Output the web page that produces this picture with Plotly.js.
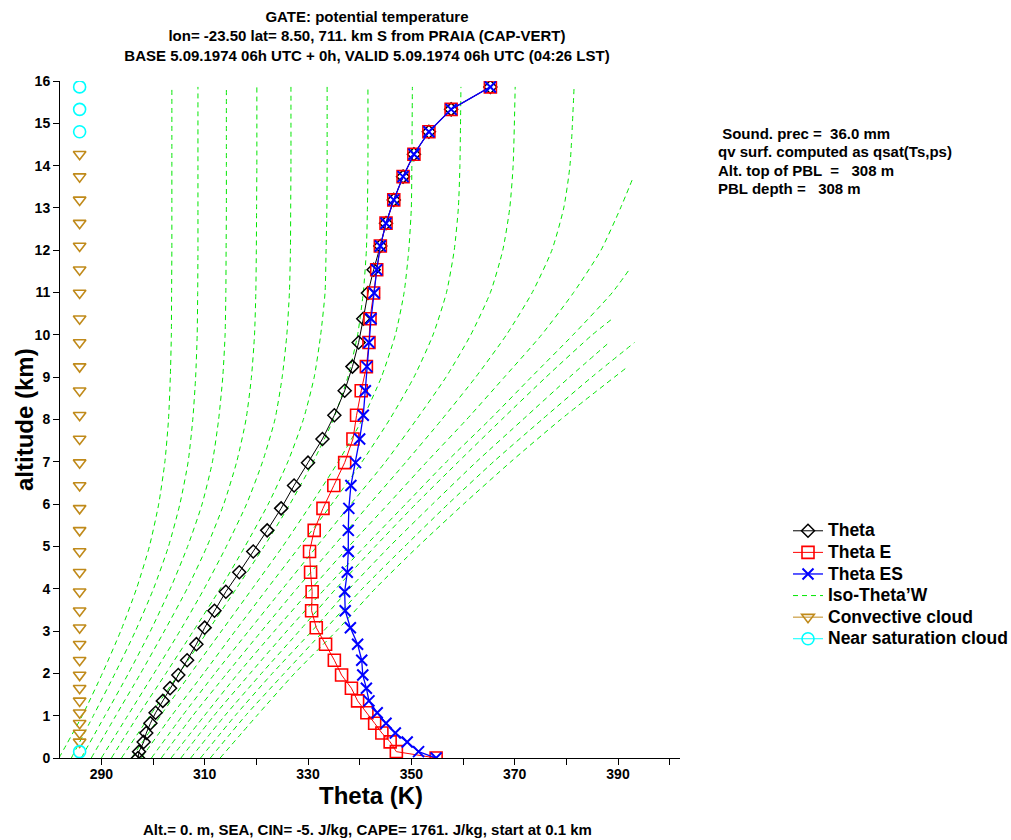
<!DOCTYPE html>
<html>
<head>
<meta charset="utf-8">
<script src="https://cdn.plot.ly/plotly-3.0.1.min.js"></script>
<style>
html,body{margin:0;padding:0;background:#ffffff;}
#chart{width:1011px;height:840px;}
</style>
</head>
<body>
<div id="chart"></div>
<script>
// ---------------- DATA ----------------
// model levels (km)
const levelKm = [0, 0.15, 0.38, 0.59, 0.82, 1.07, 1.35, 1.65, 1.96, 2.31, 2.69, 3.08, 3.48, 3.93, 4.39, 4.88, 5.38, 5.90, 6.44, 6.98, 7.54, 8.10, 8.68, 9.25, 9.82, 10.38, 10.99, 11.54, 12.10, 12.64, 13.19, 13.74, 14.27, 14.80, 15.33, 15.86];
// potential temperature (K)
const theta = [297.1, 297.3, 298.2, 298.7, 299.5, 300.5, 301.9, 303.3, 304.9, 306.6, 308.4, 310.0, 311.9, 314.1, 316.7, 319.4, 322.1, 324.8, 327.3, 330.0, 332.8, 335.1, 337.1, 338.6, 339.8, 340.7, 341.6, 342.7, 344.0, 345.1, 346.6, 348.4, 350.5, 353.4, 357.7, 365.3];
// equivalent potential temperature (K)
const thetaE = [354.8, 347.1, 345.9, 344.3, 342.9, 341.4, 339.6, 338.4, 336.5, 335.1, 333.4, 331.6, 330.7, 330.8, 330.5, 330.3, 331.2, 332.9, 335.0, 337.1, 338.7, 339.4, 340.3, 341.3, 341.8, 342.0, 342.7, 343.3, 344.0, 345.1, 346.6, 348.4, 350.5, 353.4, 357.7, 365.3];
// saturated equivalent potential temperature (K)
const thetaES = [354.8, 351.4, 349.2, 346.9, 345.1, 343.4, 341.8, 341.3, 340.6, 340.4, 339.6, 338.2, 337.2, 337.1, 337.6, 337.8, 337.8, 337.9, 338.3, 339.2, 340.0, 340.7, 341.1, 341.4, 341.8, 342.2, 342.8, 343.3, 344.0, 345.1, 346.6, 348.4, 350.5, 353.4, 357.7, 365.3];
// cloud diagnosis per level: C = convective cloud, N = near saturation cloud, '' = none
const cloudType = ['', 'N',
  'C','C','C','C','C','C','C','C','C','C','C','C','C','C','C','C',
  'C','C','C','C','C','C','C','C','C','C','C','C','C','C','C',
  'N','N','N'];
const cloudColumnTheta = 285.8;

// Iso-Theta'W curves: theta (K) on the altitude grid isoKm; truncated curves end at isoEndKm
const isoKm = [0, 1, 2, 3, 4, 5, 6, 7, 8, 9, 10, 11, 12, 13, 14, 15.86];
const iso01 = [281.8, 286.3, 290.2, 293.75, 296.8, 299.3, 301.1, 302.3, 303.0, 303.35, 303.55, 303.6, 303.65, 303.65, 303.65, 303.65];
const iso02 = [284.2, 288.45, 292.65, 296.6, 300.1, 303.0, 305.2, 306.8, 307.7, 308.25, 308.55, 308.65, 308.7, 308.7, 308.7, 308.7];
const iso03 = [286.1, 290.7, 295.25, 299.5, 303.35, 306.7, 309.5, 311.5, 312.7, 313.5, 313.95, 314.1, 314.15, 314.2, 314.2, 314.2];
const iso04 = [288.05, 292.8, 297.6, 302.2, 306.6, 310.45, 313.7, 316.2, 318.0, 319.05, 319.65, 319.9, 320.0, 320.05, 320.1, 320.1];
const iso05 = [290.0, 295.1, 300.2, 305.2, 309.9, 314.2, 318.1, 321.2, 323.6, 325.0, 325.9, 326.4, 326.6, 326.65, 326.7, 326.7];
const iso06 = [291.95, 297.1, 302.5, 307.8, 313.0, 317.8, 322.3, 326.1, 329.1, 331.2, 332.45, 333.3, 333.5, 333.65, 333.7, 333.7];
const iso07 = [293.9, 299.4, 305.05, 310.6, 316.1, 321.5, 326.5, 331.0, 334.9, 337.7, 339.6, 340.7, 341.3, 341.5, 341.6, 341.6];
const iso08 = [295.85, 301.45, 307.3, 313.25, 319.2, 325.1, 330.6, 335.85, 340.5, 344.2, 346.9, 348.6, 349.5, 350.0, 350.1, 350.2];
const iso09 = [297.75, 303.6, 309.8, 315.9, 322.1, 328.4, 334.6, 340.45, 345.8, 350.5, 354.2, 356.8, 358.3, 359.1, 359.4, 359.6];
const iso10 = [299.7, 305.7, 312.0, 318.5, 325.1, 331.7, 338.3, 345.0, 351.0, 356.7, 361.5, 365.3, 367.7, 369.05, 369.7, 370.1];
const iso11 = [301.6, 307.7, 314.3, 321.0, 327.8, 334.9, 341.9, 349.0, 355.9, 362.45, 368.4, 373.4, 377.2, 379.5, 380.7, 381.5];
const iso12 = [303.5, 309.95, 316.5, 323.5, 330.65, 337.9, 345.5, 353.0, 360.7, 368.0, 375.2, 381.4, 386.7, 390.5, 393.0];
const iso13 = [305.4, 311.8, 318.8, 325.9, 333.3, 341.0, 348.9, 356.8, 365.2, 373.2, 381.3, 388.9, 392.05];
const iso14 = [307.3, 313.9, 321.0, 328.3, 335.4, 343.0, 350.85, 359.1, 367.5, 376.05, 385.0, 389.0];
const iso15 = [309.2, 315.9, 323.1, 330.75, 338.0, 345.8, 354.1, 362.6, 371.6, 380.6, 387.9];
const iso16 = [311.1, 317.9, 325.4, 333.0, 340.5, 348.7, 357.1, 365.9, 375.3, 384.9, 393.2];
const iso17 = [313.0, 320.1, 327.4, 335.5, 343.0, 351.3, 360.1, 369.25, 378.9, 391.5];
const isoEndKm = [null, null, null, null, null, null, null, null, null, null, null, 13.74, 11.52, 10.39, 9.78, 9.82, 9.21];

// axis ticks
const xTickVals = [290, 300, 310, 320, 330, 340, 350, 360, 370, 380, 390, 400];
const xTickText = ['290', '', '310', '', '330', '', '350', '', '370', '', '390', ''];
const yTickVals = [0, 1, 2, 3, 4, 5, 6, 7, 8, 9, 10, 11, 12, 13, 14, 15, 16];

// texts
const titleLines = ['GATE: potential temperature',
  'lon= -23.50 lat= 8.50, 711. km S from PRAIA (CAP-VERT)',
  'BASE 5.09.1974 06h UTC + 0h, VALID 5.09.1974 06h UTC (04:26 LST)'];
const infoLines = [' Sound. prec =  36.0 mm',
  'qv surf. computed as qsat(Ts,ps)',
  'Alt. top of PBL  =   308 m',
  'PBL depth =   308 m'];
const footerText = 'Alt.= 0. m, SEA, CIN= -5. J/kg, CAPE= 1761. J/kg, start at 0.1 km';
const xTitle = 'Theta (K)';
const yTitle = 'altitude (km)';

// ---------------- FIGURE ----------------
const FONT = 'Liberation Sans, Arial, Helvetica, sans-serif';
function big(t) { return '<span style="font-size:17.5px">' + t + '</span>'; }
const traces = [];

const isoList = [iso01, iso02, iso03, iso04, iso05, iso06, iso07, iso08, iso09, iso10, iso11, iso12, iso13, iso14, iso15, iso16, iso17];
isoList.forEach(function (th, i) {
  const z = th.map(function (_, k) {
    return (k === th.length - 1 && isoEndKm[i] !== null) ? isoEndKm[i] : isoKm[k];
  });
  traces.push({
    type: 'scatter', mode: 'lines', x: th, y: z,
    name: big('Iso-Theta\u2019W'), legendgroup: 'iso', showlegend: i === 0, legendrank: 4,
    line: {color: '#00e600', width: 1, dash: '5px,4px', shape: 'spline', smoothing: 0.6},
    hoverinfo: 'skip'
  });
});

traces.push({
  type: 'scatter', mode: 'lines+markers', x: theta, y: levelKm, name: big('Theta'), legendrank: 1,
  line: {color: '#000000', width: 1},
  marker: {symbol: 'diamond-open', size: 10, color: '#000000', line: {width: 1.5, color: '#000000'}}
});
traces.push({
  type: 'scatter', mode: 'lines+markers', x: thetaE, y: levelKm, name: big('Theta E'), legendrank: 2,
  line: {color: '#ff0000', width: 1},
  marker: {symbol: 'square-open', size: 12, color: '#ff0000', line: {width: 1.6, color: '#ff0000'}}
});
traces.push({
  type: 'scatter', mode: 'lines+markers', x: thetaES, y: levelKm, name: big('Theta ES'), legendrank: 3,
  line: {color: '#0000ff', width: 1.3},
  marker: {symbol: 'x-thin-open', size: 11, color: '#0000ff', line: {width: 2, color: '#0000ff'}}
});

function cloudSeries(kind) {
  const xs = [], ys = [];
  levelKm.forEach(function (z, k) {
    if (cloudType[k] === kind) { xs.push(cloudColumnTheta, null); ys.push(z, null); }
  });
  return {x: xs, y: ys};
}
const conv = cloudSeries('C');
const near = cloudSeries('N');
traces.push({
  type: 'scatter', mode: 'lines+markers', x: conv.x, y: conv.y, connectgaps: false,
  name: big('Convective cloud'), legendrank: 5,
  line: {color: '#c08a1a', width: 1},
  marker: {symbol: 'triangle-down-open', size: 11, color: '#c08a1a', line: {width: 1.6, color: '#c08a1a'}}
});
traces.push({
  type: 'scatter', mode: 'lines+markers', x: near.x, y: near.y, connectgaps: false,
  name: big('Near saturation cloud'), legendrank: 6,
  line: {color: '#00ffff', width: 1},
  marker: {symbol: 'circle-open', size: 12, color: '#00ffff', line: {width: 1.6, color: '#00ffff'}}
});

const L = 60, R = 331, T = 81, B = 82;
const PW = 1011 - L - R, PH = 840 - T - B;
function px2x(px) { return (px - L) / PW; }
function py2y(py) { return (840 - B - py) / PH; }

const annotations = [];
const infoY = [133, 151, 170, 189];
infoLines.forEach(function (t, i) {
  annotations.push({
    text: t, xref: 'paper', yref: 'paper', x: px2x(716), y: py2y(infoY[i]),
    xanchor: 'left', yanchor: 'middle', showarrow: false,
    font: {family: FONT, size: 15, weight: 'bold', color: '#000'}
  });
});
annotations.push({
  text: footerText, xref: 'paper', yref: 'paper', x: px2x(367), y: py2y(829),
  xanchor: 'center', yanchor: 'middle', showarrow: false,
  font: {family: FONT, size: 15, weight: 'bold', color: '#000'}
});
annotations.push({
  text: xTitle, xref: 'paper', yref: 'paper', x: px2x(371), y: py2y(795),
  xanchor: 'center', yanchor: 'middle', showarrow: false,
  font: {family: FONT, size: 24, weight: 'bold', color: '#000'}
});
annotations.push({
  text: yTitle, xref: 'paper', yref: 'paper', x: px2x(25), y: py2y(420),
  xanchor: 'center', yanchor: 'middle', showarrow: false, textangle: -90,
  font: {family: FONT, size: 24, weight: 'bold', color: '#000'}
});

const layout = {
  width: 1011, height: 840,
  margin: {l: L, r: R, t: T, b: B, pad: 0, autoexpand: false},
  paper_bgcolor: '#ffffff', plot_bgcolor: '#ffffff',
  font: {family: FONT, color: '#000000', size: 14, weight: 'bold'},
  showlegend: true,
  title: {
    text: titleLines.join('<br>'),
    x: px2x(367), xref: 'paper', xanchor: 'center',
    y: 1 - 21.5 / 840, yref: 'container', yanchor: 'top',
    font: {family: FONT, size: 15, weight: 'bold', color: '#000'}
  },
  xaxis: {
    range: [282, 402], showline: true, linecolor: '#000', linewidth: 1, mirror: false,
    ticks: 'outside', ticklen: 6, tickcolor: '#000', tickwidth: 1,
    tickmode: 'array', tickvals: xTickVals, ticktext: xTickText,
    ticklabelstandoff: -3,
    tickfont: {family: FONT, size: 14, weight: 'bold'},
    showgrid: false, zeroline: false, fixedrange: true, automargin: false
  },
  yaxis: {
    range: [0, 16], showline: true, linecolor: '#000', linewidth: 1, mirror: false,
    ticks: 'outside', ticklen: 6, tickcolor: '#000', tickwidth: 1,
    tickmode: 'array', tickvals: yTickVals,
    tickfont: {family: FONT, size: 14, weight: 'bold'},
    showgrid: false, zeroline: false, fixedrange: true, automargin: false
  },
  legend: {
    x: px2x(788), xanchor: 'left', y: py2y(515), yanchor: 'top',
    bgcolor: 'rgba(0,0,0,0)', borderwidth: 0, traceorder: 'normal',
    font: {family: FONT, size: 14.3, weight: 'bold', color: '#000'}
  },
  annotations: annotations
};

Plotly.newPlot('chart', traces, layout, {displayModeBar: false, staticPlot: true});
</script>
</body>
</html>
